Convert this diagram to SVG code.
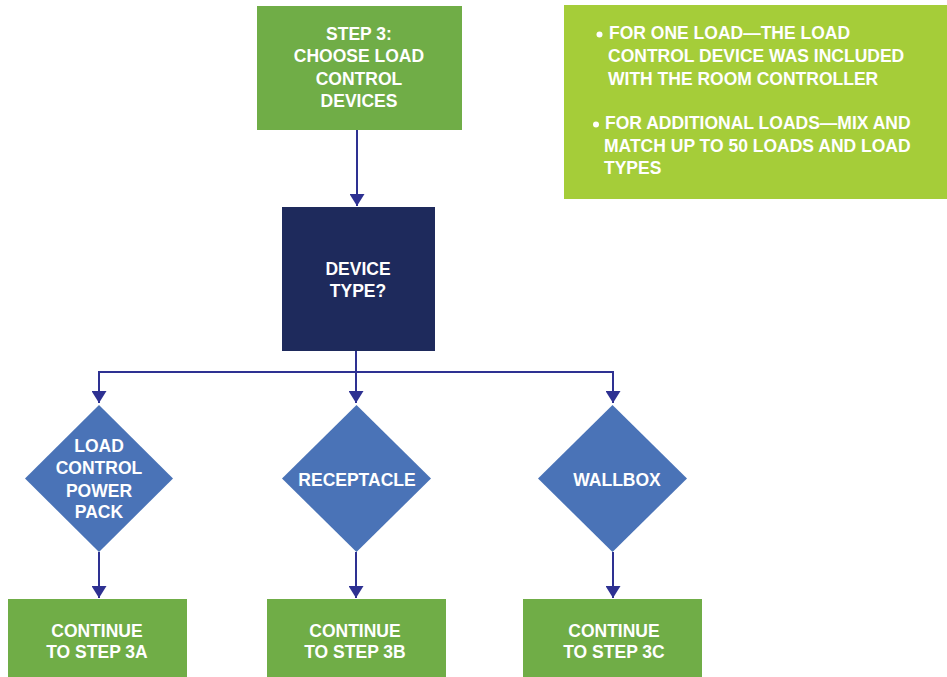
<svg xmlns="http://www.w3.org/2000/svg" width="947" height="677" viewBox="0 0 947 677">
<defs>
<style>
.t{font-family:"Liberation Sans",Arial,sans-serif;font-weight:700;font-size:17.5px;fill:#ffffff;text-anchor:middle}
.tl{font-family:"Liberation Sans",Arial,sans-serif;font-weight:700;font-size:17.5px;fill:#ffffff}
.green{fill:#70AD47}
.lime{fill:#A5CD39}
.navy{fill:#1E2A5C}
.dia{fill:#4A73B7}
.c{fill:none;stroke:#2E3192;stroke-width:2}
</style>
<marker id="ah" markerWidth="12" markerHeight="15" refX="12" refY="7.5" orient="auto" markerUnits="userSpaceOnUse" viewBox="0 0 12 15">
<path d="M0,0 L12,7.5 L0,15 Z" fill="#2E3192"/>
</marker>
</defs>
<rect width="947" height="677" fill="#ffffff"/>
<g id="connectors">
<path class="c" d="M357,130 V206" marker-end="url(#ah)"/>
<path class="c" d="M356,351 V403" marker-end="url(#ah)"/>
<path class="c" d="M99,372 H613"/>
<path class="c" d="M99,371 V403" marker-end="url(#ah)"/>
<path class="c" d="M613,371 V403" marker-end="url(#ah)"/>
<path class="c" d="M99,552 V598" marker-end="url(#ah)"/>
<path class="c" d="M356,552 V598" marker-end="url(#ah)"/>
<path class="c" d="M613,552 V598" marker-end="url(#ah)"/>
</g>
<g id="step3">
<rect class="green" x="257" y="6" width="205" height="124"/>
<text class="t" x="359" y="40">STEP 3:</text>
<text class="t" x="359" y="62">CHOOSE LOAD</text>
<text class="t" x="359" y="85">CONTROL</text>
<text class="t" x="359" y="107">DEVICES</text>
</g>
<g id="note">
<rect class="lime" x="564" y="5" width="383" height="194"/>
<circle cx="599.5" cy="34.5" r="3" fill="#ffffff"/>
<text class="tl" x="609" y="39">FOR ONE LOAD—THE LOAD</text>
<text class="tl" x="608" y="62">CONTROL DEVICE WAS INCLUDED</text>
<text class="tl" x="608" y="85">WITH THE ROOM CONTROLLER</text>
<circle cx="596" cy="124.5" r="3" fill="#ffffff"/>
<text class="tl" x="605" y="129">FOR ADDITIONAL LOADS—MIX AND</text>
<text class="tl" x="604" y="152">MATCH UP TO 50 LOADS AND LOAD</text>
<text class="tl" x="604" y="174">TYPES</text>
</g>
<g id="device-type">
<rect class="navy" x="282" y="207" width="153" height="144"/>
<text class="t" x="358" y="275">DEVICE</text>
<text class="t" x="358" y="297">TYPE?</text>
</g>
<g id="power-pack">
<polygon class="dia" points="99,405 173,478.5 99,552 25,478.5"/>
<text class="t" x="99" y="452">LOAD</text>
<text class="t" x="99" y="474">CONTROL</text>
<text class="t" x="99" y="497">POWER</text>
<text class="t" x="99" y="518">PACK</text>
</g>
<g id="receptacle">
<polygon class="dia" points="356.5,405 431,478.5 356.5,552 282,478.5"/>
<text class="t" x="357" y="486">RECEPTACLE</text>
</g>
<g id="wallbox">
<polygon class="dia" points="612.5,405 687,478.5 612.5,552 538,478.5"/>
<text class="t" x="617" y="486">WALLBOX</text>
</g>
<g id="step3a">
<rect class="green" x="8" y="599" width="179" height="78"/>
<text class="t" x="97" y="637">CONTINUE</text>
<text class="t" x="97" y="658">TO STEP 3A</text>
</g>
<g id="step3b">
<rect class="green" x="267" y="599" width="179" height="78"/>
<text class="t" x="355" y="637">CONTINUE</text>
<text class="t" x="355" y="658">TO STEP 3B</text>
</g>
<g id="step3c">
<rect class="green" x="523" y="599" width="179" height="78"/>
<text class="t" x="614" y="637">CONTINUE</text>
<text class="t" x="614" y="658">TO STEP 3C</text>
</g>
</svg>
